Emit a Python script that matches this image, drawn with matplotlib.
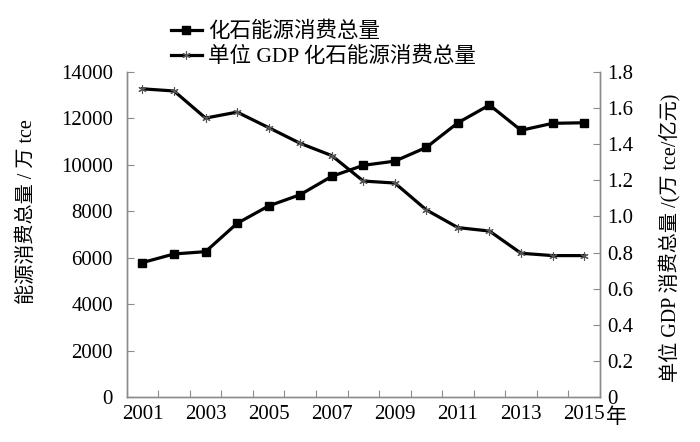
import numpy as np
import matplotlib
matplotlib.use('Agg')
import matplotlib.pyplot as plt

plt.rcParams['font.family'] = ['Liberation Serif', 'Noto Sans CJK SC']

# datos
years = [2001, 2002, 2003, 2004, 2005, 2006, 2007, 2008, 2009, 2010,
         2011, 2012, 2013, 2014, 2015]
fossil_total = [5790, 6160, 6260, 7480, 8230, 8715, 9505, 9980, 10160, 10755,
                11815, 12580, 11490, 11790, 11815]
per_gdp = [1.707, 1.695, 1.545, 1.578, 1.492, 1.405, 1.337, 1.196, 1.185, 1.036,
           0.938, 0.919, 0.796, 0.783, 0.783]
year_labels = ['2001', '2003', '2005', '2007', '2009', '2011', '2013', '2015']

gris = '#8c8c8c'
x = np.arange(len(years))

fig = plt.figure(figsize=(7, 4.42), dpi=100)
ax = fig.add_axes([0.181, 0.102, 0.676, 0.735])
ax2 = ax.twinx()

l1, = ax.plot(x, fossil_total, color='black', lw=2.3, marker='s', ms=5.5,
              label='化石能源消费总量')
l2, = ax2.plot(x, per_gdp, color='black', lw=2.3, marker=(6, 2, 0), ms=6,
               mec='#555555', mew=0.8, label='单位 GDP 化石能源消费总量')

ax.set_xlim(-0.5, len(years) - 0.5)
ax.set_ylim(0, 14000)
ax.set_yticks(np.arange(0, 14001, 2000))
ax2.set_ylim(0, 1.8)
ax2.set_yticks(np.arange(0, 1.81, 0.2))
ax2.set_yticklabels(['0'] + ['%.1f' % v for v in np.arange(0.2, 1.81, 0.2)])

# ticks between categories, labels every other year
ax.set_xticks(np.arange(-0.5, len(years), 1.0))
ax.set_xticklabels([])
ax.set_xticks(x[::2], minor=True)
ax.set_xticklabels(year_labels, minor=True)
ax.tick_params(axis='x', which='minor', length=0, labelsize=15, pad=6)
ax.tick_params(axis='x', which='major', direction='in', length=5, color=gris)
ax.tick_params(axis='y', direction='in', length=5, color=gris, labelsize=15, pad=10)
ax2.tick_params(axis='y', direction='in', length=5, color=gris, labelsize=15, pad=5)

for a in (ax, ax2):
    a.spines['top'].set_visible(False)
    for s in ('left', 'right', 'bottom'):
        a.spines[s].set_color(gris)
        a.spines[s].set_linewidth(1.0)

ax.set_ylabel('能源消费总量 / 万 tce', fontsize=14.5)
ax.yaxis.set_label_coords(-0.19, 0.57)
ax2.set_ylabel('单位 GDP 消费总量 /(万 tce/亿元)', fontsize=14.5, rotation=90)
ax2.yaxis.set_label_coords(1.125, 0.49)

ax.text(1.012, -0.035, '年', transform=ax.transAxes, fontsize=15,
        ha='left', va='top')

fig.legend(handles=[l1, l2], loc='upper left', bbox_to_anchor=(0.244, 0.95),
           frameon=False, fontsize=15.5, handlelength=1.45, handletextpad=0.3,
           labelspacing=0.2, borderpad=0, borderaxespad=0)

fig.savefig('out.png', dpi=100)
